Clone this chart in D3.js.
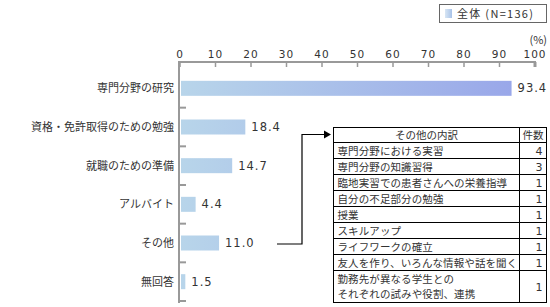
<!DOCTYPE html>
<html>
<head>
<meta charset="utf-8">
<style>
body { margin: 0; background: #fff; }
svg text { font-family: "Noto Sans CJK JP", sans-serif; fill: #333; }
</style>
</head>
<body>
<svg width="550" height="307"></svg>
<script src="https://cdn.jsdelivr.net/npm/d3@7"></script>
<script>
// 回答データ
var categories = ["専門分野の研究", "資格・免許取得のための勉強", "就職のための準備", "アルバイト", "その他", "無回答"];
var values = [93.4, 18.4, 14.7, 4.4, 11.0, 1.5];
var tickValues = [0, 10, 20, 30, 40, 50, 60, 70, 80, 90, 100];
var legendLabel = "全体 (N=136)";

// その他の内訳
var otherItems = ["専門分野における実習", "専門分野の知識習得", "臨地実習での患者さんへの栄養指導", "自分の不足部分の勉強", "授業", "スキルアップ", "ライフワークの確立", "友人を作り、いろんな情報や話を聞く", "勤務先が異なる学生との\nそれぞれの試みや役割、連携"];
var otherCounts = [4, 3, 1, 1, 1, 1, 1, 1, 1];

var svg = d3.select("svg");
var x = d3.scaleLinear().domain([0, 100]).range([180, 535]);
var y = d3.scaleBand().domain(categories).range([69, 301]).paddingInner(0);

// グラデーション
var defs = svg.append("defs");
var grad = defs.append("linearGradient").attr("id", "barGrad")
  .attr("gradientUnits", "userSpaceOnUse")
  .attr("x1", x(0)).attr("x2", x(100)).attr("y1", 0).attr("y2", 0);
grad.append("stop").attr("offset", "0%").attr("stop-color", "#b8d5ea");
grad.append("stop").attr("offset", "100%").attr("stop-color", "#97a4e9");
var grad2 = defs.append("linearGradient").attr("id", "legGrad");
grad2.append("stop").attr("offset", "0%").attr("stop-color", "#d8e6f4");
grad2.append("stop").attr("offset", "100%").attr("stop-color", "#a9c3e8");

// 凡例
svg.append("rect").attr("x", 439.5).attr("y", 4.5).attr("width", 107).attr("height", 18)
  .attr("fill", "#fff").attr("stroke", "#666");
svg.append("rect").attr("x", 445).attr("y", 9).attr("width", 7).attr("height", 9).attr("fill", "url(#legGrad)");
svg.append("text").attr("x", 457).attr("y", 17.5).attr("font-size", 11)
  .attr("letter-spacing", 1.3).text(legendLabel);

// 上の目盛
svg.append("text").attr("x", 547).attr("y", 44).attr("font-size", 11)
  .attr("text-anchor", "end").text("(%)");
svg.selectAll(".tl").data(tickValues).enter().append("text")
  .attr("class", "tl")
  .attr("x", function(d) { return x(d); })
  .attr("y", 58)
  .attr("letter-spacing", 1)
  .attr("text-anchor", "middle")
  .style("font-family", "'DejaVu Sans', sans-serif")
  .style("font-size", "10.5px")
  .text(function(d) { return d; });

svg.append("line").attr("x1", x(0)).attr("x2", x(100) + 1).attr("y1", 62).attr("y2", 62)
  .attr("stroke", "#999").attr("stroke-width", 2);
svg.selectAll(".tk").data(tickValues).enter().append("line")
  .attr("x1", function(d) { return x(d); })
  .attr("x2", function(d) { return x(d); })
  .attr("y1", 62).attr("y2", 67)
  .attr("stroke", "#999").attr("stroke-width", function(d) { return d == 100 ? 3 : 1.5; });

// 縦軸
svg.append("line").attr("x1", 179).attr("x2", 179).attr("y1", 61).attr("y2", 303)
  .attr("stroke", "#999").attr("stroke-width", 2);
svg.selectAll(".sep").data(categories).enter().append("line")
  .attr("x1", 179).attr("x2", 186)
  .attr("y1", function(d) { return y(d) + y.bandwidth(); })
  .attr("y2", function(d) { return y(d) + y.bandwidth(); })
  .attr("stroke", "#999").attr("stroke-width", 2);

// 棒
var bh = 15;
svg.selectAll(".bar").data(values).enter().append("rect")
  .attr("x", x(0) + 1)
  .attr("y", function(d, i) { return y(categories[i]) + y.bandwidth() / 2 - bh / 2; })
  .attr("width", function(d) { return x(d) - x(0) - 1; })
  .attr("height", bh)
  .attr("fill", "url(#barGrad)");

svg.selectAll(".val").data(values).enter().append("text")
  .attr("x", function(d) { return x(d) + 6; })
  .attr("y", function(d, i) { return y(categories[i]) + y.bandwidth() / 2 + 4; })
  .attr("letter-spacing", 1)
  .style("font-family", "'DejaVu Sans', sans-serif")
  .style("font-size", "11.5px")
  .text(function(d) { return d.toFixed(1); });

svg.selectAll(".cat").data(categories).enter().append("text")
  .attr("x", 174)
  .attr("y", function(d) { return y(d) + y.bandwidth() / 2 + 4; })
  .attr("text-anchor", "end")
  .attr("font-size", 11)
  .text(function(d) { return d; });

// 矢印
var ay = y("その他") + y.bandwidth() / 2 + 1;
svg.append("path")
  .attr("d", "M277," + ay + "H302V134.5H325")
  .attr("fill", "none").attr("stroke", "#000").attr("stroke-width", 1.2);
svg.append("path").attr("d", "M324,130.5L331,134.5L324,138.5Z").attr("fill", "#000");

// 内訳の表
var tx0 = 333.5, tx1 = 519.5, tx2 = 546.5;
var rowH = otherItems.map(function(d) { return d.indexOf("\n") >= 0 ? 32 : 16; });
var rowTop = [142.5];
for (var i = 1; i < otherItems.length; i++) rowTop[i] = rowTop[i - 1] + rowH[i - 1];
var tBottom = rowTop[otherItems.length - 1] + rowH[otherItems.length - 1];

var tbl = svg.append("g");
tbl.append("rect").attr("x", tx0).attr("y", 127.5).attr("width", tx2 - tx0).attr("height", tBottom - 127.5)
  .attr("fill", "#fff").attr("stroke", "#000");
tbl.append("line").attr("x1", tx1).attr("x2", tx1).attr("y1", 127.5).attr("y2", tBottom).attr("stroke", "#000");
tbl.selectAll(".rl").data(rowTop).enter().append("line")
  .attr("x1", tx0).attr("x2", tx2)
  .attr("y1", function(d) { return d; }).attr("y2", function(d) { return d; })
  .attr("stroke", "#000");
tbl.append("text").attr("x", (tx0 + tx1) / 2).attr("y", 139).attr("text-anchor", "middle")
  .attr("font-size", 10.5).text("その他の内訳");
tbl.append("text").attr("x", (tx1 + tx2) / 2).attr("y", 139).attr("text-anchor", "middle")
  .attr("font-size", 10.5).text("件数");

// 行ごとに1行ずつテキストを置く
otherItems.forEach(function(d, i) {
  d.split("\n").forEach(function(s, k) {
    tbl.append("text")
      .attr("x", tx0 + 4)
      .attr("y", rowTop[i] + 12 + k * 15.5)
      .attr("font-size", 10.5)
      .attr("letter-spacing", 0.1)
      .text(s);
  });
});

tbl.selectAll(".ct").data(otherCounts).enter().append("text")
  .attr("x", tx2 - 4)
  .attr("y", function(d, i) { return rowTop[i] + rowH[i] / 2 + 4.5; })
  .attr("text-anchor", "end")
  .style("font-family", "'DejaVu Sans', sans-serif")
  .style("font-size", "11px")
  .text(function(d) { return d; });
</script>
</body>
</html>
